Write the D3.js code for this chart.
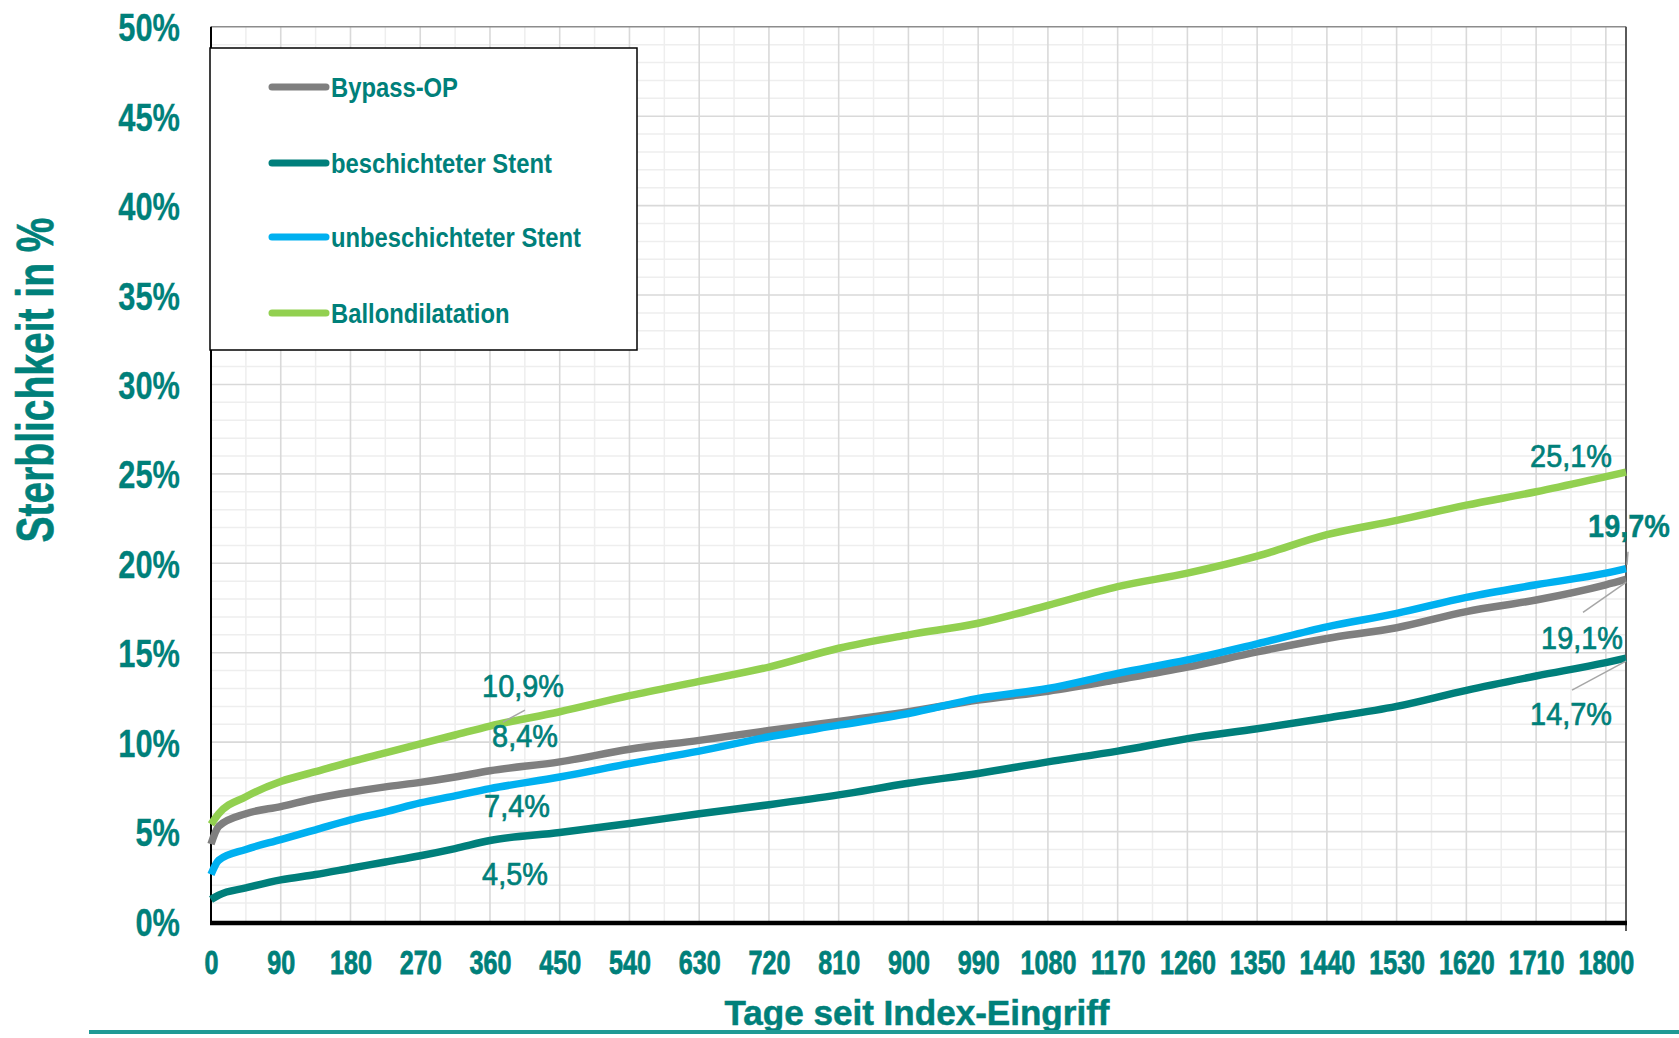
<!DOCTYPE html>
<html lang="de">
<head>
<meta charset="utf-8">
<title>Sterblichkeit nach Index-Eingriff</title>
<script src="https://cdn.jsdelivr.net/npm/d3@7"></script>
<style>
  html, body { margin: 0; padding: 0; background: #ffffff; }
  svg { display: block; font-family: "Liberation Sans", Arial, sans-serif; }
</style>
</head>
<body>
<svg id="chart" width="1679" height="1038"></svg>
<script>
// Follow-up days at which the cumulative mortality was read
const days = [0, 10, 45, 90, 135, 180, 225, 270, 315, 360, 450, 540, 630, 720, 810, 900, 990, 1080, 1170, 1260, 1350, 1440, 1530, 1620, 1710, 1800, 1826];

// Cumulative mortality in percent per treatment group
const bypassOP = [4.3, 5.3, 6.0, 6.4, 6.85, 7.2, 7.5, 7.75, 8.05, 8.4, 8.9, 9.6, 10.1, 10.65, 11.15, 11.7, 12.35, 12.85, 13.5, 14.2, 15.05, 15.8, 16.4, 17.3, 17.95, 18.8, 19.1];
const beschichteterStent = [1.2, 1.45, 1.85, 2.3, 2.6, 2.95, 3.3, 3.65, 4.05, 4.5, 4.95, 5.45, 6.0, 6.5, 7.05, 7.7, 8.25, 8.9, 9.5, 10.2, 10.75, 11.35, 12.0, 12.9, 13.7, 14.45, 14.7];
const unbeschichteterStent = [2.6, 3.4, 4.0, 4.55, 5.1, 5.65, 6.1, 6.6, 7.0, 7.4, 8.05, 8.8, 9.5, 10.3, 10.95, 11.6, 12.45, 13.0, 13.85, 14.6, 15.5, 16.45, 17.2, 18.1, 18.8, 19.45, 19.7];
const ballondilatation = [5.4, 6.0, 6.95, 7.8, 8.35, 8.9, 9.4, 9.9, 10.4, 10.9, 11.7, 12.6, 13.4, 14.2, 15.25, 16.0, 16.65, 17.65, 18.7, 19.45, 20.4, 21.6, 22.4, 23.25, 24.0, 24.85, 25.1];

const seriesNames = ["Bypass-OP", "beschichteter Stent", "unbeschichteter Stent", "Ballondilatation"];
const seriesValues = [bypassOP, beschichteterStent, unbeschichteterStent, ballondilatation];
const seriesColors = ["#7f7f7f", "#007f7b", "#00b0f0", "#92d050"];

// Axis ticks
const xTicks = d3.range(0, 1801, 90);
const yTicks = d3.range(0, 51, 5);

// Value callouts: series index, day, and label text
const callouts = [
  { s: 3, day: 360,  text: "10,9%", dx: 33,  dy: -29, bold: false, lead: [35, -16, 13, -4] },
  { s: 0, day: 360,  text: "8,4%",  dx: 35,  dy: -24, bold: false },
  { s: 2, day: 360,  text: "7,4%",  dx: 27,  dy: 28,  bold: false },
  { s: 1, day: 360,  text: "4,5%",  dx: 25,  dy: 44,  bold: false },
  { s: 3, day: 1826, text: "25,1%", dx: -55, dy: -5,  bold: false },
  { s: 2, day: 1826, text: "19,7%", dx: 3,   dy: -32, bold: true,  lead: [2, -17, 1, -4] },
  { s: 0, day: 1826, text: "19,1%", dx: -44, dy: 70,  bold: false, lead: [-43, 33, 0, 3] },
  { s: 1, day: 1826, text: "14,7%", dx: -55, dy: 67,  bold: false, lead: [-54, 32, 0, 3] }
];

const textColor = "#00807a";
const svg = d3.select("#chart");

const x = d3.scaleLinear().domain([0, 1826]).range([211, 1626]);
const y = d3.scaleLinear().domain([0, 50]).range([921, 26.8]);

// Narrow a text element horizontally while keeping its height
function squeeze(sel, ratio) {
  sel.each(function () {
    const len = this.getComputedTextLength();
    d3.select(this).attr("textLength", len * ratio).attr("lengthAdjust", "spacingAndGlyphs");
  });
}

svg.append("rect").attr("width", 1679).attr("height", 1038).attr("fill", "#ffffff");

// Grid: minor lines every 45 days / 1 %, major lines every 90 days / 5 %
const grid = svg.append("g");
const minorDays = d3.range(45, 1826, 45).filter(d => d % 90 !== 0);
const majorDays = d3.range(90, 1801, 90);
const minorPct = d3.range(1, 50).filter(v => v % 5 !== 0);
const majorPct = d3.range(5, 50, 5);

grid.selectAll(".vmin").data(minorDays).join("line")
  .attr("x1", d => x(d)).attr("x2", d => x(d))
  .attr("y1", y(50)).attr("y2", y(0))
  .attr("stroke", "#eeeeee").attr("stroke-width", 1.5);
grid.selectAll(".hmin").data(minorPct).join("line")
  .attr("x1", x(0)).attr("x2", x(1826))
  .attr("y1", d => y(d)).attr("y2", d => y(d))
  .attr("stroke", "#eeeeee").attr("stroke-width", 1.5);
grid.selectAll(".vmaj").data(majorDays).join("line")
  .attr("x1", d => x(d)).attr("x2", d => x(d))
  .attr("y1", y(50)).attr("y2", y(0))
  .attr("stroke", "#d9d9d9").attr("stroke-width", 1.6);
grid.selectAll(".hmaj").data(majorPct).join("line")
  .attr("x1", x(0)).attr("x2", x(1826))
  .attr("y1", d => y(d)).attr("y2", d => y(d))
  .attr("stroke", "#d9d9d9").attr("stroke-width", 1.6);

// Plot frame
svg.append("line").attr("x1", x(0)).attr("x2", x(1826)).attr("y1", y(50)).attr("y2", y(50))
  .attr("stroke", "#8c8c8c").attr("stroke-width", 1.5);
svg.append("line").attr("x1", x(1826)).attr("x2", x(1826)).attr("y1", y(50)).attr("y2", y(0) + 10)
  .attr("stroke", "#5a5a5a").attr("stroke-width", 2);
svg.append("line").attr("x1", x(0)).attr("x2", x(0)).attr("y1", y(50)).attr("y2", y(0))
  .attr("stroke", "#000000").attr("stroke-width", 2);
svg.append("line").attr("x1", x(0) - 1).attr("x2", x(1826) + 1).attr("y1", y(0) + 2).attr("y2", y(0) + 2)
  .attr("stroke", "#000000").attr("stroke-width", 4.5);

// Axes (labels only)
const xAxis = svg.append("g").attr("transform", `translate(0,${y(0)})`)
  .call(d3.axisBottom(x).tickValues(xTicks).tickSize(0).tickPadding(0).tickFormat(d3.format("d")));
xAxis.select(".domain").remove();
xAxis.selectAll("text")
  .attr("dy", null).attr("y", 53)
  .attr("fill", textColor).attr("stroke", textColor).attr("stroke-width", 0.8)
  .style("font-size", "33.5px").style("font-weight", "bold")
  .call(squeeze, 0.75);

const yAxis = svg.append("g").attr("transform", `translate(180,0)`)
  .call(d3.axisLeft(y).tickValues(yTicks).tickSize(0).tickPadding(0).tickFormat(d => d + "%"));
yAxis.select(".domain").remove();
yAxis.selectAll("text")
  .attr("dy", "0.36em").attr("x", 0)
  .attr("fill", textColor).attr("stroke", textColor).attr("stroke-width", 0.3)
  .style("font-size", "39px").style("font-weight", "bold")
  .call(squeeze, 0.79);

// Axis titles
svg.append("text")
  .attr("transform", "translate(53,380) rotate(-90)")
  .attr("text-anchor", "middle")
  .attr("fill", textColor).attr("stroke", textColor).attr("stroke-width", 0.6)
  .style("font-size", "52px").style("font-weight", "bold")
  .attr("textLength", 325).attr("lengthAdjust", "spacingAndGlyphs")
  .text("Sterblichkeit in %");

svg.append("text")
  .attr("x", 917).attr("y", 1025)
  .attr("text-anchor", "middle")
  .attr("fill", textColor).attr("stroke", textColor).attr("stroke-width", 0.5)
  .style("font-size", "35px").style("font-weight", "bold")
  .attr("textLength", 385).attr("lengthAdjust", "spacingAndGlyphs")
  .text("Tage seit Index-Eingriff");

svg.append("line").attr("x1", 89).attr("x2", 1679).attr("y1", 1032).attr("y2", 1032)
  .attr("stroke", "#1f9a95").attr("stroke-width", 4);

// Mortality curves
const line = d3.line()
  .x((d, i) => x(days[i]))
  .y(d => y(d))
  .curve(d3.curveMonotoneX);

svg.append("g").selectAll("path").data(seriesValues).join("path")
  .attr("d", d => line(d))
  .attr("fill", "none")
  .attr("stroke", (d, i) => seriesColors[i])
  .attr("stroke-width", 7.5)
  .attr("stroke-linejoin", "round");

// Legend
const legend = svg.append("g");
legend.append("rect").attr("x", 210).attr("y", 48).attr("width", 427).attr("height", 302)
  .attr("fill", "#ffffff").attr("stroke", "#000000").attr("stroke-width", 1.5);
const legendY = [87, 163, 237, 313];
const item = legend.selectAll(".item").data(seriesNames).join("g")
  .attr("transform", (d, i) => `translate(0,${legendY[i]})`);
item.append("line").attr("x1", 272).attr("x2", 326).attr("y1", 0).attr("y2", 0)
  .attr("stroke", (d, i) => seriesColors[i]).attr("stroke-width", 7).attr("stroke-linecap", "round");
item.append("text").attr("x", 331).attr("y", 10)
  .attr("fill", textColor)
  .style("font-size", "28px").style("font-weight", "bold")
  .text(d => d)
  .call(squeeze, 0.85);

// Value callouts with leader lines
const cg = svg.append("g");
callouts.forEach(c => {
  const i = days.indexOf(c.day);
  const px = x(c.day), py = y(seriesValues[c.s][i]);
  if (c.lead) {
    cg.append("line")
      .attr("x1", px + c.lead[0]).attr("y1", py + c.lead[1])
      .attr("x2", px + c.lead[2]).attr("y2", py + c.lead[3])
      .attr("stroke", "#a6a6a6").attr("stroke-width", 1.5);
  }
  cg.append("text")
    .attr("x", px + c.dx).attr("y", py + c.dy)
    .attr("text-anchor", "middle")
    .attr("fill", textColor)
    .attr("stroke", textColor).attr("stroke-width", c.bold ? 0.4 : 0.7)
    .style("font-size", "31px").style("font-weight", c.bold ? "bold" : "normal")
    .text(c.text)
    .call(squeeze, 0.93);
});
</script>
</body>
</html>
